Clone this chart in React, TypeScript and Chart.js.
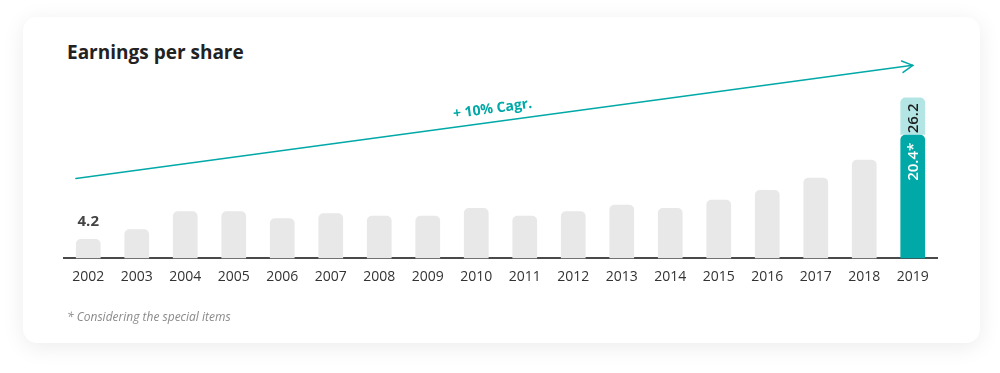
import React, { useEffect, useRef } from "react";
import { Chart, registerables } from "chart.js";

Chart.register(...registerables);

// ---- Data ----
const years = [
  "2002", "2003", "2004", "2005", "2006", "2007", "2008", "2009", "2010",
  "2011", "2012", "2013", "2014", "2015", "2016", "2017", "2018", "2019",
];
const epsValues: (number | null)[] = [
  4.2, 5.7, 8.5, 8.5, 7.4, 8.2, 7.8, 7.8, 9.0, 7.8, 8.5, 9.5, 9.0, 10.3, 11.8, 13.7, 16.5, null,
];
const eps2019Adjusted: (number | null)[] = [
  null, null, null, null, null, null, null, null, null, null, null, null, null, null, null, null, null, 20.4,
];
const eps2019Total = 26.2;
const eps2019Special: (number | null)[] = [
  null, null, null, null, null, null, null, null, null, null, null, null, null, null, null, null, null, 5.8,
];
const cagrLabel = "+ 10% Cagr.";
const cagrStartValue = 13.6;
const cagrEndValue = 31.2;
const yMin = 1.2;
const yMax = 32.5;
const titleText = "Earnings per share";
const footnoteText = "* Considering the special items";

const TEAL = "#00a9a7";
const LIGHT_TEAL = "#b3e5e5";
const GRAY = "#e8e8e8";
const FONT = "'Open Sans', Lato, sans-serif";

const overlayPlugin = {
  id: "overlay",
  afterDatasetsDraw(chart: any) {
    const ctx = chart.ctx as CanvasRenderingContext2D;
    const y = chart.scales.y;
    const gray = chart.getDatasetMeta(0).data;
    const teal = chart.getDatasetMeta(1).data;
    const light = chart.getDatasetMeta(2).data;
    const last = years.length - 1;

    ctx.save();
    // first bar label
    const b0 = gray[0];
    ctx.font = `700 15px ${FONT}`;
    ctx.fillStyle = "#444";
    ctx.textAlign = "center";
    ctx.textBaseline = "alphabetic";
    ctx.fillText(String(epsValues[0]), b0.x, b0.y - 13);

    // rotated labels in 2019 bar
    const lb = light[last];
    const tb = teal[last];
    ctx.save();
    ctx.translate(lb.x, lb.y + 6);
    ctx.rotate(-Math.PI / 2);
    ctx.textAlign = "right";
    ctx.textBaseline = "middle";
    ctx.font = `600 15px ${FONT}`;
    ctx.fillStyle = "#1e1e1e";
    ctx.fillText(eps2019Total.toFixed(1), 0, 1);
    ctx.restore();

    ctx.save();
    ctx.translate(tb.x, tb.y + 8);
    ctx.rotate(-Math.PI / 2);
    ctx.textAlign = "right";
    ctx.textBaseline = "middle";
    ctx.font = `600 15px ${FONT}`;
    ctx.fillStyle = "#ffffff";
    ctx.fillText(`${(eps2019Adjusted[last] as number).toFixed(1)}*`, 0, 1);
    ctx.restore();

    // CAGR arrow
    const x1 = b0.x - b0.width / 2;
    const y1 = y.getPixelForValue(cagrStartValue);
    const x2 = tb.x;
    const y2 = y.getPixelForValue(cagrEndValue);
    const dx = x2 - x1;
    const dy = y2 - y1;
    const len = Math.hypot(dx, dy);
    const a = Math.atan2(dy, dx);
    ctx.strokeStyle = TEAL;
    ctx.lineWidth = 1.5;
    ctx.lineCap = "round";
    ctx.beginPath();
    ctx.moveTo(x1, y1);
    ctx.lineTo(x2, y2);
    ctx.stroke();
    const head = 12;
    const spread = 0.5;
    ctx.beginPath();
    ctx.moveTo(x2 - head * Math.cos(a - spread), y2 - head * Math.sin(a - spread));
    ctx.lineTo(x2, y2);
    ctx.lineTo(x2 - head * Math.cos(a + spread), y2 - head * Math.sin(a + spread));
    ctx.stroke();

    const mx = x1 + dx * 0.5;
    const my = y1 + dy * 0.5;
    const nx = dy / len;
    const ny = -dx / len;
    ctx.translate(mx + nx * 13, my + ny * 13);
    ctx.rotate(a);
    ctx.font = `700 14px ${FONT}`;
    ctx.fillStyle = TEAL;
    ctx.textAlign = "center";
    ctx.textBaseline = "middle";
    ctx.fillText(cagrLabel, 0, 0);
    ctx.restore();
  },
};

export default function App() {
  const canvasRef = useRef<HTMLCanvasElement | null>(null);

  useEffect(() => {
    if (!canvasRef.current) return;
    const chart = new Chart(canvasRef.current, {
      type: "bar",
      data: {
        labels: years,
        datasets: [
          {
            data: epsValues as any,
            backgroundColor: GRAY,
            borderRadius: { topLeft: 5, topRight: 5, bottomLeft: 0, bottomRight: 0 },
            borderSkipped: false,
          },
          {
            data: eps2019Adjusted as any,
            backgroundColor: TEAL,
            borderRadius: { topLeft: 5, topRight: 5, bottomLeft: 0, bottomRight: 0 },
            borderSkipped: false,
          },
          {
            data: eps2019Special as any,
            backgroundColor: LIGHT_TEAL,
            borderRadius: { topLeft: 5, topRight: 5, bottomLeft: 0, bottomRight: 0 },
            borderSkipped: false,
          },
        ],
      },
      options: {
        animation: false,
        responsive: false,
        maintainAspectRatio: false,
        devicePixelRatio: 1,
        layout: { padding: { left: 41, right: 43, top: 40, bottom: 48 } },
        plugins: { legend: { display: false }, tooltip: { enabled: false } },
        datasets: { bar: { categoryPercentage: 1, barPercentage: 0.51 } },
        scales: {
          x: {
            stacked: true,
            grid: { display: true, drawOnChartArea: false, drawTicks: false, color: "rgba(0,0,0,0)" },
            border: { display: true, color: "#4a4a4a", width: 2 },
            ticks: { color: "#333", font: { family: FONT, size: 14 }, padding: 10, maxRotation: 0, autoSkip: false },
          },
          y: {
            stacked: true,
            display: false,
            min: yMin,
            max: yMax,
          },
        },
      },
      plugins: [overlayPlugin],
    });
    return () => chart.destroy();
  }, []);

  return (
    <div style={{ position: "fixed", left: 0, top: 0, width: 1000, height: 373, background: "#fff", overflow: "hidden" }}>
      <div
        style={{
          position: "absolute",
          left: 23,
          top: 17,
          width: 957,
          height: 326,
          borderRadius: 14,
          background: "#fff",
          boxShadow: "0 4px 22px rgba(0,0,0,0.08)",
        }}
      >
        <div
          style={{
            position: "absolute",
            left: 44,
            top: 26,
            fontFamily: FONT,
            fontWeight: 700,
            fontSize: 19,
            lineHeight: "19px",
            color: "#222",
            whiteSpace: "nowrap",
          }}
        >
          {titleText}
        </div>
        <canvas ref={canvasRef} width={957} height={326} style={{ position: "absolute", left: 0, top: 0, width: 957, height: 326 }} />
        <div
          style={{
            position: "absolute",
            left: 44,
            top: 294,
            fontFamily: FONT,
            fontStyle: "italic",
            fontSize: 12,
            lineHeight: "12px",
            color: "#8a8a8a",
            whiteSpace: "nowrap",
          }}
        >
          {footnoteText}
        </div>
      </div>
    </div>
  );
}
